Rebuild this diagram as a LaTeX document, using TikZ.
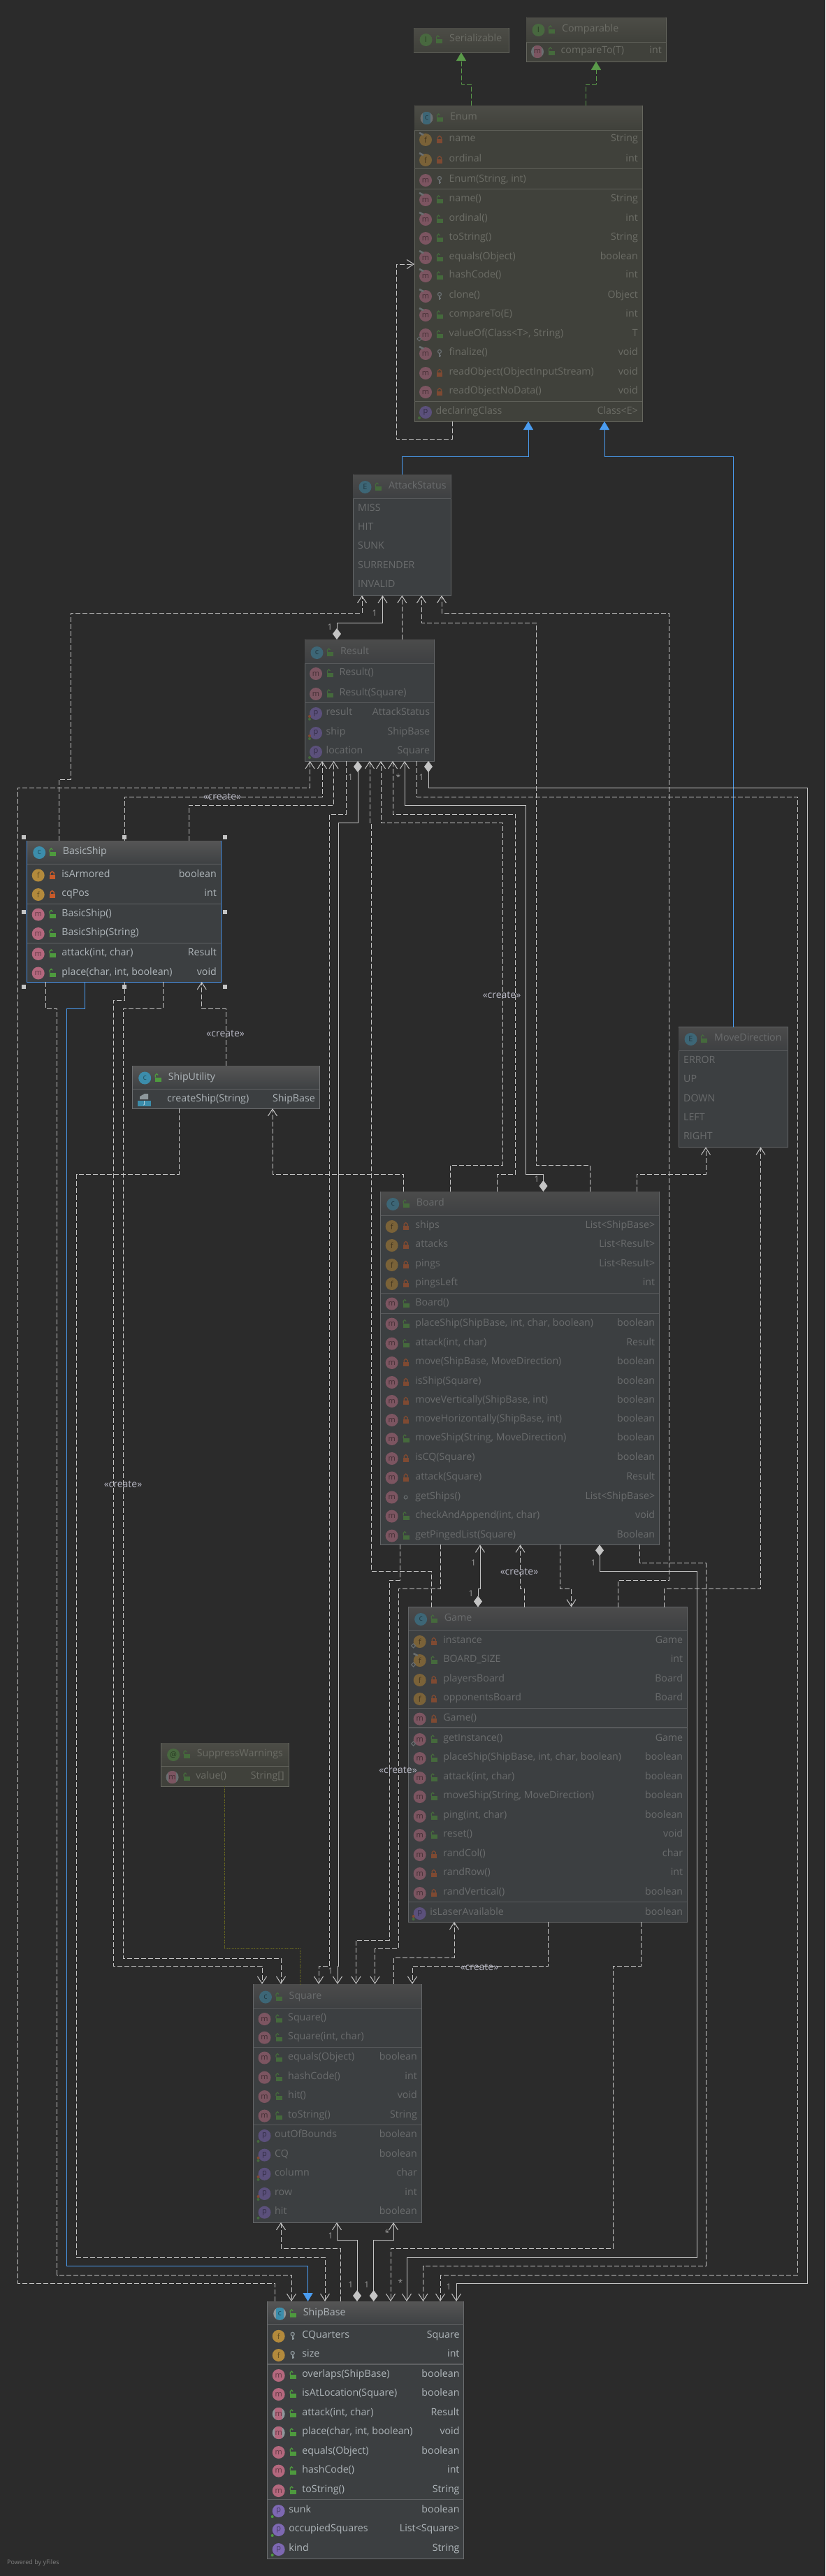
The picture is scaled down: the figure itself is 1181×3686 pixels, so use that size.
\documentclass[tikz,border=0pt]{standalone}
\usepackage{fontspec}
\setmainfont{Open Sans}
\usepackage{xcolor}
\usetikzlibrary{calc}
\usetikzlibrary{arrows.meta}

\definecolor{canvas}{HTML}{2B2B2B}
\definecolor{wire}{HTML}{C4C4C4}
\definecolor{blueline}{HTML}{4A9CF0}
\definecolor{greenline}{HTML}{5A9A4A}
\definecolor{oliveline}{HTML}{6F6F1E}

\newcommand{\brightcolors}{%
\definecolor{rowtxt}{HTML}{AEB5B9}\definecolor{icf}{HTML}{B38A3C}\definecolor{icm}{HTML}{B4687E}%
\definecolor{icp}{HTML}{7D68B2}\definecolor{icc}{HTML}{3C8DAB}\definecolor{icE}{HTML}{3C8DAB}\definecolor{icI}{HTML}{5E9048}\definecolor{ic@}{HTML}{5E9048}%
\definecolor{lockok}{HTML}{4E9A3E}\definecolor{lockno}{HTML}{C75A2A}\definecolor{lockgr}{HTML}{8D979B}%
\definecolor{boxedge}{HTML}{6C6E70}\definecolor{sepline}{HTML}{5F6163}\definecolor{headtop}{HTML}{555555}%
\definecolor{headbot}{HTML}{3E4143}\definecolor{boxfill}{HTML}{3C3F41}}
\newcommand{\dimcolors}{%
\definecolor{rowtxt}{HTML}{6A6C6D}\definecolor{icf}{HTML}{7A6238}\definecolor{icm}{HTML}{7C5561}%
\definecolor{icp}{HTML}{5B507B}\definecolor{icc}{HTML}{3D6676}\definecolor{icE}{HTML}{3D6676}\definecolor{icI}{HTML}{48683F}\definecolor{ic@}{HTML}{48683F}%
\definecolor{lockok}{HTML}{456A3C}\definecolor{lockno}{HTML}{7F4A32}\definecolor{lockgr}{HTML}{6A6F71}%
\definecolor{boxedge}{HTML}{646668}\definecolor{sepline}{HTML}{585A5C}\definecolor{headtop}{HTML}{4B4B4B}%
\definecolor{headbot}{HTML}{3E4042}\definecolor{boxfill}{HTML}{3C3F41}}
\newcommand{\libcolors}{\dimcolors%
\definecolor{rowtxt}{HTML}{6C6D66}\definecolor{boxedge}{HTML}{66675F}\definecolor{sepline}{HTML}{5E5F58}%
\definecolor{headtop}{HTML}{4C4C46}\definecolor{headbot}{HTML}{40413B}\definecolor{boxfill}{HTML}{40413B}}

\tikzstyle{classbox} = [rectangle, draw=boxedge, fill=boxfill, line width=1pt, inner sep=0pt, outer sep=0pt]
\tikzstyle{sep} = [draw=sepline, line width=1pt]
\tikzstyle{icon} = [circle, inner sep=0pt, minimum size=18pt, font=\fontsize{11}{12}\selectfont]
\tikzstyle{rowname} = [anchor=mid west, inner sep=0pt, text=rowtxt, font=\fontsize{14.2}{16}\selectfont]
\tikzstyle{rowtype} = [anchor=mid east, inner sep=0pt, text=rowtxt, font=\fontsize{14.2}{16}\selectfont]
\tikzstyle{mult} = [inner sep=0pt, text=wire!80!black, font=\fontsize{12}{13}\selectfont]
\tikzstyle{stereo} = [inner sep=0pt, text=wire!95!blue, font=\fontsize{14}{15}\selectfont]
\tikzstyle{handle} = [rectangle, fill=wire, minimum size=6pt, inner sep=0pt]
\tikzstyle{dep} = [draw=wire, line width=1pt, dash pattern=on 7pt off 3pt, -{Straight Barb[length=10pt,width=13pt]}]
\tikzstyle{depplain} = [draw=wire, line width=1pt, dash pattern=on 7pt off 3pt]
\tikzstyle{assoc} = [draw=wire, line width=1pt, {Diamond[length=16pt,width=12pt]}-{Straight Barb[length=10pt,width=13pt]}]
\tikzstyle{inherit} = [draw=blueline, line width=1pt, -{Triangle[length=12pt,width=14pt]}]
\tikzstyle{impl} = [draw=greenline, line width=1pt, dash pattern=on 7pt off 3pt, -{Triangle[length=12pt,width=14pt]}]
\tikzstyle{annot} = [draw=oliveline, line width=0.8pt, densely dotted]

\tikzset{
  absic/.style={fill=lockgr, path picture={\fill[#1] ([xshift=-5.5pt]path picture bounding box.north) rectangle ([xshift=5.5pt]path picture bounding box.south);}},
  pub/.pic={\fill[lockok] (-4,-1) rectangle (5,5); \draw[lockok,line width=1.3pt] (-3.5,-1) -- (-3.5,-4) -- (-1.5,-6) -- (0.5,-4);},
  pri/.pic={\fill[lockno] (-4,-1) rectangle (4,5); \draw[lockno,line width=1.3pt] (-2.5,-1) -- (-2.5,-3.5) -- (0,-5.5) -- (2.5,-3.5) -- (2.5,-1);},
  pro/.pic={\draw[lockgr,line width=1.2pt] (0,-3) circle (2.5pt); \draw[lockgr,line width=1.6pt] (0,0) -- (0,5) (0,3) -- (2,3);},
  pkg/.pic={\draw[lockgr,line width=1pt] (0,0) circle (2.5pt);},
  dotg/.pic={\fill[lockok] (0,0) circle (2pt);},
  dotog/.pic={\fill[lockno] (0,-4) circle (2pt); \fill[lockok] (0,0) circle (2pt);}
}

\newcounter{rowc}
\newcommand{\classtitle}[7][]{%
  \shade [top color=headtop, bottom color=headbot] ($(#2.north west)+(0.5,0.5)$) rectangle ($(#2.east |- 0,#4)+(-0.5,0)$);
  \draw [sep] (#2.west |- 0,#4) -- (#2.east |- 0,#4);
  \node [icon, fill=ic#5, text=ic#5!55!black, #1] (#2-icon) at ($(#2.west |- 0,#3)+(17.5,0)$) {#5};
  \pic at ($(#2.west |- 0,#3)+(36,0)$) {#6};
  \node [rowname] (#2-title) at ($(#2.west |- 0,#3)+(51,0)$) {#7};
}
\newcommand{\member}[7][]{%
  \stepcounter{rowc}
  \node [icon, fill=ic#4, text=ic#4!55!black, #1] (ic\therowc) at ($(#2.west |- 0,#3)+(16,0)$) {#4};
  \pic at ($(#2.west |- 0,#3)+(36,0)$) {#5};
  \node [rowname] (nm\therowc) at ($(#2.west |- 0,#3)+(49.5,0)$) {#6};
  \node [rowtype] (ty\therowc) at ($(#2.east |- 0,#3)+(-6,0)$) {#7};
}
\newcommand{\property}[5]{%
  \stepcounter{rowc}
  \node [icon, fill=icp, text=icp!55!black] (ic\therowc) at ($(#1.west |- 0,#2)+(16,0)$) {p};
  \pic at ($(#1.west |- 0,#2)+(7,8)$) {#3};
  \node [rowname] (nm\therowc) at ($(#1.west |- 0,#2)+(30.5,0)$) {#4};
  \node [rowtype] (ty\therowc) at ($(#1.east |- 0,#2)+(-6,0)$) {#5};
}
\newcommand{\constant}[3]{%
  \stepcounter{rowc}
  \node [rowname] (nm\therowc) at ($(#1.west |- 0,#2)+(7,0)$) {#3};
}
\newcommand{\overmark}[2]{\draw [lockgr, line width=2.5pt] ($(#1.west |- 0,#2)+(7,-10)$) -- ($(#1.west |- 0,#2)+(13,-7)$);}
\newcommand{\staticmark}[2]{\draw [lockgr, line width=1pt] ($(#1.west |- 0,#2)+(4,6)$) -- ($(#1.west |- 0,#2)+(7,3)$) -- ($(#1.west |- 0,#2)+(10,6)$) -- ($(#1.west |- 0,#2)+(7,9)$) -- cycle;}

\begin{document}
\begin{tikzpicture}[x=1pt, y=-1pt]

\useasboundingbox (0,0) rectangle (1181,3686);
\fill [canvas] (0,0) rectangle (1181,3686);

\libcolors
\node [classbox, minimum width=136, minimum height=35] (Serializable) at (660,57.5) {};
\classtitle{Serializable}{57}{75}{I}{pub}{Serializable}

\node [classbox, minimum width=200, minimum height=63] (Comparable) at (853,56.5) {};
\classtitle{Comparable}{43}{60}{I}{pub}{Comparable}
\member[absic=icm]{Comparable}{74}{m}{pub}{compareTo(T)}{int}

\node [classbox, minimum width=326, minimum height=452] (Enum) at (756,377) {};
\classtitle[absic=icc]{Enum}{169}{186}{c}{pub}{Enum}
\draw [sep] (Enum.west |- 0,241) -- (Enum.east |- 0,241);
\draw [sep] (Enum.west |- 0,270) -- (Enum.east |- 0,270);
\draw [sep] (Enum.west |- 0,574) -- (Enum.east |- 0,574);
\member{Enum}{200}{f}{pri}{name}{String}
\member{Enum}{229}{f}{pri}{ordinal}{int}
\member{Enum}{258}{m}{pro}{Enum(String, int)}{}
\member{Enum}{286}{m}{pub}{name()}{String}
\member{Enum}{314}{m}{pub}{ordinal()}{int}
\member{Enum}{341}{m}{pub}{toString()}{String}
\member{Enum}{369}{m}{pub}{equals(Object)}{boolean}
\member{Enum}{395}{m}{pub}{hashCode()}{int}
\member{Enum}{424}{m}{pro}{clone()}{Object}
\member{Enum}{451}{m}{pub}{compareTo(E)}{int}
\member{Enum}{479}{m}{pub}{valueOf(Class<T>, String)}{T}
\member{Enum}{506}{m}{pro}{finalize()}{void}
\member{Enum}{534}{m}{pri}{readObject(ObjectInputStream)}{void}
\member{Enum}{561}{m}{pri}{readObjectNoData()}{void}
\property{Enum}{590}{dotg}{declaringClass}{Class<E>}
\overmark{Enum}{200}
\overmark{Enum}{229}
\overmark{Enum}{286}
\overmark{Enum}{314}
\overmark{Enum}{369}
\overmark{Enum}{395}
\overmark{Enum}{424}
\overmark{Enum}{451}
\overmark{Enum}{506}
\staticmark{Enum}{479}

\dimcolors
\node [classbox, minimum width=140.6, minimum height=173] (AttackStatus) at (575.3,765.5) {};
\classtitle{AttackStatus}{697}{713}{E}{pub}{AttackStatus}
\constant{AttackStatus}{729}{MISS}
\constant{AttackStatus}{756}{HIT}
\constant{AttackStatus}{783}{SUNK}
\constant{AttackStatus}{811}{SURRENDER}
\constant{AttackStatus}{838}{INVALID}

\node [classbox, minimum width=185.4, minimum height=174] (Result) at (528.7,1002) {};
\classtitle{Result}{934}{949}{c}{pub}{Result}
\draw [sep] (Result.west |- 0,1005) -- (Result.east |- 0,1005);
\member{Result}{964}{m}{pub}{Result()}{}
\member{Result}{993}{m}{pub}{Result(Square)}{}
\property{Result}{1021}{dotog}{result}{AttackStatus}
\property{Result}{1049}{dotog}{ship}{ShipBase}
\property{Result}{1076}{dotg}{location}{Square}

\brightcolors
\definecolor{boxedge}{HTML}{4A90E2}
\node [classbox, minimum width=277.3, minimum height=202] (BasicShip) at (177.35,1304) {};
\definecolor{boxedge}{HTML}{6C6E70}
\classtitle{BasicShip}{1220}{1236}{c}{pub}{BasicShip}
\draw [sep] (BasicShip.west |- 0,1293) -- (BasicShip.east |- 0,1293);
\draw [sep] (BasicShip.west |- 0,1349) -- (BasicShip.east |- 0,1349);
\member{BasicShip}{1252.5}{f}{pri}{isArmored}{boolean}
\member{BasicShip}{1280}{f}{pri}{cqPos}{int}
\member{BasicShip}{1308.6}{m}{pub}{BasicShip()}{}
\member{BasicShip}{1336}{m}{pub}{BasicShip(String)}{}
\member{BasicShip}{1365}{m}{pub}{attack(int, char)}{Result}
\member{BasicShip}{1392.5}{m}{pub}{place(char, int, boolean)}{void}

\node [handle] (hand1) at (33.7,1198) {};
\node [handle] (hand2) at (178,1198) {};
\node [handle] (hand3) at (322,1198) {};
\node [handle] (hand4) at (33.7,1305) {};
\node [handle] (hand5) at (322,1305) {};
\node [handle] (hand6) at (33.7,1412) {};
\node [handle] (hand7) at (178,1412) {};
\node [handle] (hand8) at (322,1412) {};

\node [classbox, minimum width=267.3, minimum height=61] (ShipUtility) at (323.35,1555.5) {};
\classtitle{ShipUtility}{1542.5}{1558}{c}{pub}{ShipUtility}
\fill [lockgr] (200,1573) -- (200,1569) -- (207,1565) -- (212,1565) -- (212,1573) -- cycle;
\node [rectangle, fill=icc, minimum width=19pt, minimum height=8pt, inner sep=0pt, text=white, font=\fontsize{7}{7}\selectfont] (ShipUtility-jar) at (206.5,1579) {J};
\node [rowname] (ShipUtility-row) at (239,1573.5) {createShip(String)};
\node [rowtype] (ShipUtility-type) at (451,1573.5) {ShipBase};

\dimcolors
\node [classbox, minimum width=156.6, minimum height=171.9] (MoveDirection) at (1049.3,1555.5) {};
\classtitle{MoveDirection}{1487}{1503}{E}{pub}{MoveDirection}
\constant{MoveDirection}{1518.6}{ERROR}
\constant{MoveDirection}{1545.6}{UP}
\constant{MoveDirection}{1573.7}{DOWN}
\constant{MoveDirection}{1600.7}{LEFT}
\constant{MoveDirection}{1628}{RIGHT}

\node [classbox, minimum width=398.7, minimum height=505.4] (Board) at (744,1957.7) {};
\classtitle{Board}{1723}{1739.5}{c}{pub}{Board}
\draw [sep] (Board.west |- 0,1850) -- (Board.east |- 0,1850);
\draw [sep] (Board.west |- 0,1879) -- (Board.east |- 0,1879);
\member{Board}{1755}{f}{pri}{ships}{List<ShipBase>}
\member{Board}{1782}{f}{pri}{attacks}{List<Result>}
\member{Board}{1810}{f}{pri}{pings}{List<Result>}
\member{Board}{1837}{f}{pri}{pingsLeft}{int}
\member{Board}{1865.5}{m}{pub}{Board()}{}
\member{Board}{1894.6}{m}{pub}{placeShip(ShipBase, int, char, boolean)}{boolean}
\member{Board}{1922.6}{m}{pub}{attack(int, char)}{Result}
\member{Board}{1950}{m}{pri}{move(ShipBase, MoveDirection)}{boolean}
\member{Board}{1978}{m}{pri}{isShip(Square)}{boolean}
\member{Board}{2005}{m}{pri}{moveVertically(ShipBase, int)}{boolean}
\member{Board}{2032}{m}{pri}{moveHorizontally(ShipBase, int)}{boolean}
\member{Board}{2059}{m}{pub}{moveShip(String, MoveDirection)}{boolean}
\member{Board}{2087}{m}{pri}{isCQ(Square)}{boolean}
\member{Board}{2114.5}{m}{pri}{attack(Square)}{Result}
\member{Board}{2142.5}{m}{pkg}{getShips()}{List<ShipBase>}
\member{Board}{2169.6}{m}{pub}{checkAndAppend(int, char)}{void}
\member{Board}{2197.6}{m}{pub}{getPingedList(Square)}{Boolean}

\node [classbox, minimum width=398.7, minimum height=450.5] (Game) at (784,2524.75) {};
\classtitle{Game}{2317}{2333.5}{c}{pub}{Game}
\draw [sep] (Game.west |- 0,2444) -- (Game.east |- 0,2444);
\draw [sep, line width=1.5pt] (Game.west |- 0,2472) -- (Game.east |- 0,2472);
\draw [sep] (Game.west |- 0,2721) -- (Game.east |- 0,2721);
\member{Game}{2349}{f}{pri}{instance}{Game}
\member{Game}{2376}{f}{pub}{BOARD\_SIZE}{int}
\member{Game}{2404}{f}{pri}{playersBoard}{Board}
\member{Game}{2431}{f}{pri}{opponentsBoard}{Board}
\member{Game}{2459.6}{m}{pri}{Game()}{}
\member{Game}{2489}{m}{pub}{getInstance()}{Game}
\member{Game}{2516}{m}{pub}{placeShip(ShipBase, int, char, boolean)}{boolean}
\member{Game}{2544}{m}{pub}{attack(int, char)}{boolean}
\member{Game}{2571}{m}{pub}{moveShip(String, MoveDirection)}{boolean}
\member{Game}{2599}{m}{pub}{ping(int, char)}{boolean}
\member{Game}{2626}{m}{pub}{reset()}{void}
\member{Game}{2654}{m}{pri}{randCol()}{char}
\member{Game}{2681}{m}{pri}{randRow()}{int}
\member{Game}{2709}{m}{pri}{randVertical()}{boolean}
\property{Game}{2738}{dotog}{isLaserAvailable}{boolean}
\staticmark{Game}{2349}
\overmark{Game}{2376}
\staticmark{Game}{2376}
\staticmark{Game}{2489}

\libcolors
\node [classbox, minimum width=182.4, minimum height=62] (SuppressWarnings) at (321.8,2525) {};
\classtitle{SuppressWarnings}{2511}{2527.6}{@}{pub}{SuppressWarnings}
\member[absic=icm]{SuppressWarnings}{2543}{m}{pub}{value()}{String[]}

\dimcolors
\node [classbox, minimum width=240.5, minimum height=341] (Square) at (482.75,3009.5) {};
\classtitle{Square}{2857.6}{2873}{c}{pub}{Square}
\draw [sep] (Square.west |- 0,2929) -- (Square.east |- 0,2929);
\draw [sep] (Square.west |- 0,3040) -- (Square.east |- 0,3040);
\member{Square}{2889}{m}{pub}{Square()}{}
\member{Square}{2915.7}{m}{pub}{Square(int, char)}{}
\member{Square}{2944.5}{m}{pub}{equals(Object)}{boolean}
\member{Square}{2972.7}{m}{pub}{hashCode()}{int}
\member{Square}{3000}{m}{pub}{hit()}{void}
\member{Square}{3027.6}{m}{pub}{toString()}{String}
\property{Square}{3056}{dotg}{outOfBounds}{boolean}
\property{Square}{3083.6}{dotog}{CQ}{boolean}
\property{Square}{3110.8}{dotog}{column}{char}
\property{Square}{3139}{dotog}{row}{int}
\property{Square}{3165.7}{dotg}{hit}{boolean}

\brightcolors
\node [classbox, minimum width=281, minimum height=368] (ShipBase) at (523.2,3477) {};
\classtitle[absic=icc]{ShipBase}{3310.7}{3326.4}{c}{pub}{ShipBase}
\draw [sep, line width=1.5pt] (ShipBase.west |- 0,3383) -- (ShipBase.east |- 0,3383);
\draw [sep] (ShipBase.west |- 0,3576.7) -- (ShipBase.east |- 0,3576.7);
\member{ShipBase}{3342.8}{f}{pro}{CQuarters}{Square}
\member{ShipBase}{3370}{f}{pro}{size}{int}
\member{ShipBase}{3399}{m}{pub}{overlaps(ShipBase)}{boolean}
\member{ShipBase}{3426}{m}{pub}{isAtLocation(Square)}{boolean}
\member[absic=icm]{ShipBase}{3454}{m}{pub}{attack(int, char)}{Result}
\member[absic=icm]{ShipBase}{3481}{m}{pub}{place(char, int, boolean)}{void}
\member{ShipBase}{3509}{m}{pub}{equals(Object)}{boolean}
\member{ShipBase}{3535.6}{m}{pub}{hashCode()}{int}
\member{ShipBase}{3564}{m}{pub}{toString()}{String}
\property{ShipBase}{3593}{dotg}{sunk}{boolean}
\property{ShipBase}{3620}{dotg}{occupiedSquares}{List<Square>}
\property{ShipBase}{3648}{dotg}{kind}{String}

\path [impl] (674,0 |- Enum.north) -- (674,120) -- (660,120) -- (660,0 |- Serializable.south);
\path [impl] (838,0 |- Enum.north) -- (838,120) -- (853,120) -- (853,0 |- Comparable.south);
\path [dep] (647,0 |- Enum.south) -- (647,628) -- (567,628) -- (567,378) -- (Enum.west |- 0,378);
\path [inherit] (575.3,0 |- AttackStatus.north) -- (575.3,653) -- (756,653) -- (756,0 |- Enum.south);
\path [inherit] (1049.3,0 |- MoveDirection.north) -- (1049.3,653) -- (865,653) -- (865,0 |- Enum.south);
\path [inherit] (121.7,0 |- BasicShip.south) -- (121.7,1443) -- (95.7,1443) -- (95.7,3242) -- (440.6,3242) -- (440.6,0 |- ShipBase.north);

\path [dep] (84,0 |- BasicShip.north) -- (84,1115) -- (101,1115) -- (101,877) -- (518,877) -- (518,0 |- AttackStatus.south);
\path [assoc] (482,0 |- Result.north) -- (482,891) -- (547.5,891) -- (547.5,0 |- AttackStatus.south);
\path [dep] (575.3,0 |- Result.north) -- (575.3,0 |- AttackStatus.south);
\path [dep] (844.4,0 |- Board.north) -- (844.4,1667) -- (767,1667) -- (767,891) -- (603,891) -- (603,0 |- AttackStatus.south);
\path [dep] (884,0 |- Game.north) -- (884,2261) -- (957,2261) -- (957,877) -- (632,877) -- (632,0 |- AttackStatus.south);

\path [dep] (393,0 |- ShipBase.north) -- (393,3267) -- (25.6,3267) -- (25.6,1127) -- (443.6,1127) -- (443.6,0 |- Result.south);
\path [dep] (178,0 |- BasicShip.north) -- (178,1140) -- (461,1140) -- (461,0 |- Result.south);
\path [dep] (270,0 |- BasicShip.north) -- (270,1152) -- (477.5,1152) -- (477.5,0 |- Result.south);
\path [dep] (495,0 |- Result.south) -- (495,1165) -- (471.5,1165) -- (471.5,2813) -- (456,2813) -- (456,0 |- Square.north);
\path [assoc] (512,0 |- Result.south) -- (512,1177) -- (484.5,1177) -- (484.5,2813) -- (483,2813) -- (483,0 |- Square.north);
\path [dep] (617.7,0 |- Game.north) -- (617.7,2248) -- (531,2248) -- (531,1177) -- (529,1177) -- (529,0 |- Result.south);
\path [dep] (644.6,0 |- Board.north) -- (644.6,1667) -- (719,1667) -- (719,1177) -- (545,1177) -- (545,0 |- Result.south);
\path [dep] (711.5,0 |- Board.north) -- (711.5,1680) -- (737.5,1680) -- (737.5,1165) -- (562,1165) -- (562,0 |- Result.south);
\path [assoc] (777.5,0 |- Board.north) -- (777.5,1680) -- (752,1680) -- (752,1152) -- (579,1152) -- (579,0 |- Result.south);
\path [dep] (596.5,0 |- Result.south) -- (596.5,1140) -- (1141,1140) -- (1141,3255) -- (630,3255) -- (630,0 |- ShipBase.north);
\path [assoc] (613,0 |- Result.south) -- (613,1127) -- (1155,1127) -- (1155,3267) -- (653,3267) -- (653,0 |- ShipBase.north);

\path [dep] (65,0 |- BasicShip.south) -- (65,1443) -- (81.6,1443) -- (81.6,3255) -- (417,3255) -- (417,0 |- ShipBase.north);
\path [dep] (178,0 |- BasicShip.south) -- (178,1431) -- (162,1431) -- (162,2813) -- (375,2813) -- (375,0 |- Square.north);
\path [dep] (233,0 |- BasicShip.south) -- (233,1443) -- (176,1443) -- (176,2802) -- (402,2802) -- (402,0 |- Square.north);
\path [dep] (323.3,0 |- ShipUtility.north) -- (323.3,1443) -- (288.7,1443) -- (288.7,0 |- BasicShip.south);
\path [dep] (256,0 |- ShipUtility.south) -- (256,1680) -- (109.5,1680) -- (109.5,3230) -- (465,3230) -- (465,0 |- ShipBase.north);
\path [dep] (577,0 |- Board.north) -- (577,1680) -- (390,1680) -- (390,0 |- ShipUtility.south);

\path [dep] (911.3,0 |- Board.north) -- (911.3,1680) -- (1010,1680) -- (1010,0 |- MoveDirection.south);
\path [dep] (950.4,0 |- Game.north) -- (950.4,2273) -- (1088.5,2273) -- (1088.5,0 |- MoveDirection.south);
\path [dep] (572.5,0 |- Board.south) -- (572.5,2261) -- (557,2261) -- (557,2776) -- (509.5,2776) -- (509.5,0 |- Square.north);
\path [dep] (630,0 |- Board.south) -- (630,2273) -- (570,2273) -- (570,2788) -- (536.5,2788) -- (536.5,0 |- Square.north);
\path [assoc] (684,0 |- Game.north) -- (684,2273) -- (687,2273) -- (687,0 |- Board.south);
\path [dep] (750.6,0 |- Game.north) -- (750.6,2273) -- (744.5,2273) -- (744.5,0 |- Board.south);
\path [dep] (801,0 |- Board.south) -- (801,2273) -- (817.5,2273) -- (817.5,0 |- Game.north);
\path [assoc] (858,0 |- Board.south) -- (858,2248) -- (997.5,2248) -- (997.5,3230) -- (582,3230) -- (582,0 |- ShipBase.north);
\path [dep] (915.6,0 |- Board.south) -- (915.6,2236.6) -- (1010,2236.6) -- (1010,3242) -- (605.5,3242) -- (605.5,0 |- ShipBase.north);

\path [dep] (563.7,0 |- Square.north) -- (563.7,2801) -- (650,2801) -- (650,0 |- Game.south);
\path [dep] (784.5,0 |- Game.south) -- (784.5,2813) -- (590,2813) -- (590,0 |- Square.north);
\path [dep] (917,0 |- Game.south) -- (917,2813) -- (877.4,2813) -- (877.4,3217) -- (559,3217) -- (559,0 |- ShipBase.north);

\path [dep] (487,0 |- ShipBase.north) -- (487,3217) -- (402,3217) -- (402,0 |- Square.south);
\path [assoc] (511,0 |- ShipBase.north) -- (511,3205) -- (482,3205) -- (482,0 |- Square.south);
\path [assoc] (534.7,0 |- ShipBase.north) -- (534.7,3205) -- (563,3205) -- (563,0 |- Square.south);

\path [annot] (321,0 |- SuppressWarnings.south) -- (321,2788) -- (429,2788) -- (429,0 |- Square.north);

\node [mult] (mult1) at (536,877) {1};
\node [mult] (mult2) at (472,897) {1};
\node [mult] (mult3) at (501.6,1112) {1};
\node [mult] (mult4) at (473,2820) {1};
\node [mult] (mult5) at (570,1112) {*};
\node [mult] (mult6) at (768,1687) {1};
\node [mult] (mult7) at (603,1112) {1};
\node [mult] (mult8) at (642,3272) {1};
\node [mult] (mult9) at (677.6,2236) {1};
\node [mult] (mult10) at (674,2280) {1};
\node [mult] (mult11) at (849,2236) {1};
\node [mult] (mult12) at (573,3266) {*};
\node [mult] (mult13) at (473,3199) {1};
\node [mult] (mult14) at (501.7,3269) {1};
\node [mult] (mult15) at (554,3195) {*};
\node [mult] (mult16) at (524.7,3269) {1};

\node [stereo] (create1) at (318,1140) {«create»};
\node [stereo] (create2) at (718,1424) {«create»};
\node [stereo] (create3) at (322.7,1479) {«create»};
\node [stereo] (create4) at (176,2124) {«create»};
\node [stereo] (create5) at (743,2249) {«create»};
\node [stereo] (create6) at (569.5,2533) {«create»};
\node [stereo] (create7) at (686,2815) {«create»};

\node [anchor=mid west, inner sep=0pt, text=white!50!black, font=\fontsize{9}{10}\selectfont] (powered) at (10,3667) {Powered by yFiles};

\end{tikzpicture}
\end{document}
